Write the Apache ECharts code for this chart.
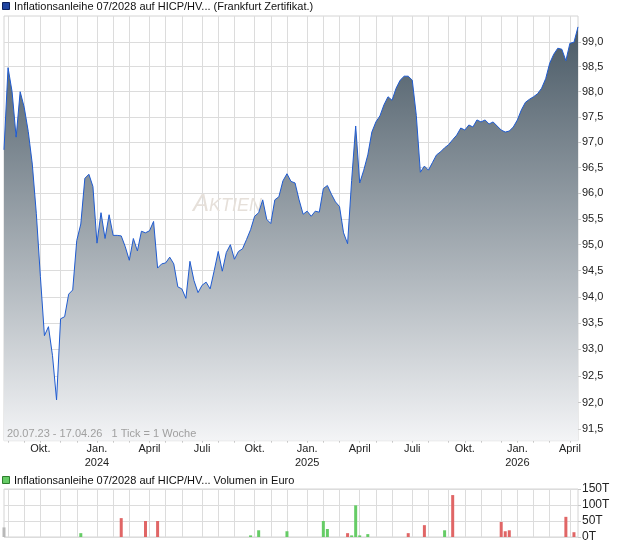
<!DOCTYPE html>
<html><head><meta charset="utf-8">
<script src="https://cdn.jsdelivr.net/npm/echarts@6/dist/echarts.min.js"></script>
<style>html,body{margin:0;padding:0;background:#fff}#c{width:620px;height:546px}</style>
</head><body><div id="c"></div>
<script>
// weekly closing prices (one point per week, 20.07.23 ... April 2026)
const prices = [
 96.85,98.48,98.0,97.1,98.0,97.69,97.21,96.57,95.6,94.39,
 93.26,93.43,92.88,92.05,93.58,93.62,94.05,94.13,95.08,95.4,
 96.29,96.37,96.13,95.03,95.62,95.12,95.58,95.18,95.18,95.17,
 94.96,94.7,95.12,94.88,95.26,95.23,95.27,95.45,94.55,94.63,
 94.65,94.76,94.63,94.19,94.15,93.97,94.68,94.31,94.08,94.22,
 94.28,94.15,94.5,94.87,94.49,94.85,95.0,94.72,94.87,94.92,
 95.1,95.29,95.55,95.62,95.87,95.49,95.41,95.87,95.93,96.24,
 96.38,96.23,96.2,95.87,95.59,95.65,95.55,95.65,95.63,96.09,
 96.15,95.98,95.83,95.74,95.23,95.02,96.25,97.32,96.2,96.45,
 96.75,97.2,97.4,97.52,97.74,97.9,97.83,98.07,98.23,98.31,
 98.31,98.23,97.53,96.41,96.53,96.45,96.6,96.75,96.81,96.89,
 96.95,97.05,97.14,97.28,97.24,97.34,97.3,97.44,97.4,97.44,
 97.36,97.4,97.32,97.24,97.2,97.22,97.3,97.44,97.64,97.79,
 97.85,97.9,97.96,98.07,98.26,98.57,98.75,98.87,98.85,98.62,
 98.97,98.99,99.3
];
// week index of the first week of each month (vertical grid lines)
const monthLines = [1,5,9,14,18,23,27,31,36,40,44,49,53,57,62,66,70,75,79,83,88,92,96,101,105,110,114,118,123,127,131,135,140];
// x axis labels
const labelIdx = [9,23,36,49,62,75,88,101,114,127,140];
const labelText = ['Okt.','Jan.\n2024','April','Juli','Okt.','Jan.\n2025','April','Juli','Okt.','Jan.\n2026','April'];
// y axis ticks (logarithmic price scale)
const yTicks = [91.5,92.0,92.5,93.0,93.5,94.0,94.5,95.0,95.5,96.0,96.5,97.0,97.5,98.0,98.5,99.0];
const yMin = 91.29, yMax = 99.52;
// volume (thousand euro), week index and direction
const volIdx = [0,19,29,35,38,61,63,70,79,80,85,86,87,88,90,100,104,109,111,123,124,125,139,141];
const volValues = [30,12,59,50,50,5,21,18,50,25,12,5,99,5,9,12,37,21,131,47,18,21,63,15];
const volDir = ['n','u','d','d','d','u','u','u','u','u','d','u','u','u','u','d','d','u','d','d','d','d','d','d'];

const FONT = '"Liberation Sans", Arial, sans-serif';
const cats = [];
const d0 = Date.UTC(2023,6,20);
for (let i=0;i<prices.length;i++){
  const d = new Date(d0 + i*7*864e5);
  const p = n => String(n).padStart(2,'0');
  cats.push(p(d.getUTCDate())+'.'+p(d.getUTCMonth()+1)+'.'+String(d.getUTCFullYear()).slice(2));
}
const monthSet = new Set(monthLines);
const labelMap = {}; labelIdx.forEach((k,j)=>labelMap[k]=labelText[j]);
const isMonth = (i)=>monthSet.has(i);
const isLabel = (i)=>labelMap[i]!==undefined;
const dirColor = {u:'#66cc66', d:'#e06666', n:'#b8b8b8'};
const volData = cats.map(()=> '-');
volIdx.forEach((k,j)=>{ volData[k] = {value: volValues[j], itemStyle:{color: dirColor[volDir[j]]}}; });

const chart = echarts.init(document.getElementById('c'), null, {renderer:'canvas'});
const gridLine = {color:'#dcdcdc', width:1};
chart.setOption({
  animation:false,
  backgroundColor:'#fff',
  grid:[
    {left:4, right:42, top:16, bottom:105.3, show:true, borderColor:'#d4d4d4', borderWidth:1, backgroundColor:'#fff', containLabel:false, outerBoundsMode:'none'},
    {left:4, right:42, top:489, bottom:9, show:true, borderColor:'#d4d4d4', borderWidth:1, backgroundColor:'#fff', containLabel:false, outerBoundsMode:'none'}
  ],
  xAxis:[
    {type:'category', gridIndex:0, data:cats, boundaryGap:false,
     axisLine:{show:false},
     axisTick:{show:true, interval:isMonth, length:2, lineStyle:{color:'#c8c8c8'}},
     axisLabel:{interval:isLabel, formatter:(v,i)=>labelMap[i]||'', margin:2, fontSize:11, lineHeight:13.5, color:'#222', fontFamily:FONT},
     splitLine:{show:true, interval:isMonth, lineStyle:gridLine}},
    {type:'category', gridIndex:1, data:cats, boundaryGap:false,
     axisLine:{show:false}, axisTick:{show:false}, axisLabel:{show:false},
     splitLine:{show:true, interval:isMonth, lineStyle:gridLine}}
  ],
  yAxis:[
    {type:'value', gridIndex:0, position:'right', min:Math.log(yMin), max:Math.log(yMax),
     axisLine:{show:false},
     axisTick:{show:true, customValues:yTicks.map(Math.log), length:3, lineStyle:{color:'#c8c8c8'}},
     axisLabel:{customValues:yTicks.map(Math.log), formatter:v=>Math.exp(v).toFixed(1).replace('.',','), margin:4, fontSize:11, color:'#222', fontFamily:FONT},
     splitLine:{show:true, lineStyle:gridLine}},
    {type:'value', gridIndex:1, position:'right', min:0, max:150, interval:50,
     axisLine:{show:false},
     axisTick:{show:true, length:3, lineStyle:{color:'#c8c8c8'}},
     axisLabel:{formatter:v=>v+'T', margin:4, fontSize:12, color:'#222', fontFamily:FONT},
     splitLine:{show:true, lineStyle:gridLine}}
  ],
  series:[
    {type:'line', xAxisIndex:0, yAxisIndex:0, data:prices.map(Math.log), symbol:'none', showSymbol:false, z:2,
     lineStyle:{color:'#1f5bd0', width:1},
     areaStyle:{origin:'start', opacity:1, color:new echarts.graphic.LinearGradient(0,0,0,1,[{offset:0,color:'#4a5a66'},{offset:1,color:'#f3f4f6'}])}},
    {type:'bar', xAxisIndex:1, yAxisIndex:1, data:volData, barWidth:3, z:2}
  ],
  graphic:[
    {type:'text', z:1, left:193, top:192, style:{text:'{a|A}{b|KTIEN}', fill:'#e6e0da', rich:{a:{fontSize:24, fontStyle:'italic', fontFamily:FONT, fill:'#e6e0da'}, b:{fontSize:18, fontStyle:'italic', fontFamily:FONT, fill:'#e6e0da', padding:[4,0,0,0]}}}},
    {type:'rect', z:100, shape:{x:2.5, y:2.5, width:7, height:7}, style:{fill:'#1f44a0', stroke:'#0b1f5c', lineWidth:1}},
    {type:'text', z:100, x:14, y:7, style:{text:'Inflationsanleihe 07/2028 auf HICP/HV... (Frankfurt Zertifikat.)', font:'11px '+FONT, fill:'#111', verticalAlign:'middle'}},
    {type:'text', z:100, x:7, y:434, style:{text:'20.07.23 - 17.04.26   1 Tick = 1 Woche', font:'11px '+FONT, fill:'#a0a0a0', verticalAlign:'middle'}},
    {type:'rect', z:100, shape:{x:2.5, y:476.5, width:7, height:7}, style:{fill:'#66cc66', stroke:'#2e7d2e', lineWidth:1}},
    {type:'text', z:100, x:14, y:481, style:{text:'Inflationsanleihe 07/2028 auf HICP/HV... Volumen in Euro', font:'11px '+FONT, fill:'#111', verticalAlign:'middle'}}
  ]
});
</script></body></html>
